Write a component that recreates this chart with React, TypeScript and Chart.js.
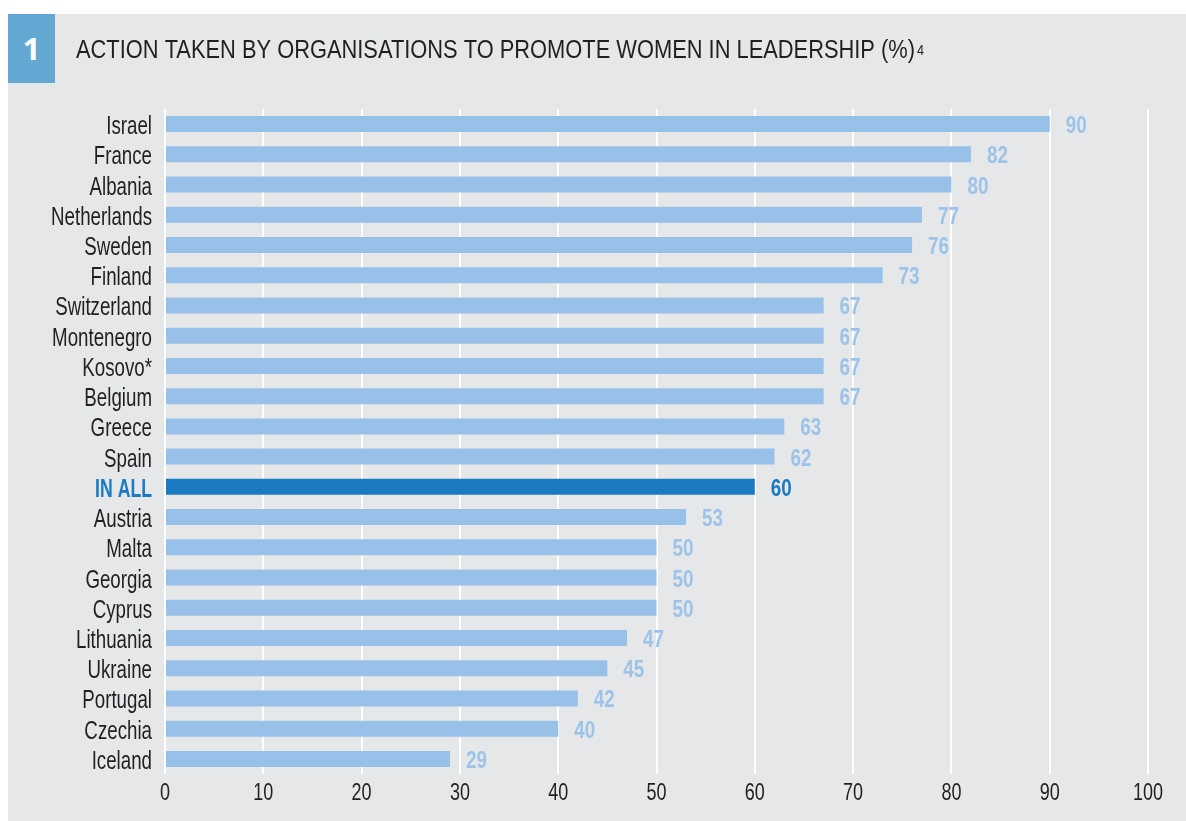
import React, { useEffect, useRef } from "react";
import { Chart, registerables } from "chart.js";

Chart.register(...registerables);

const categories = [
  "Israel", "France", "Albania", "Netherlands", "Sweden", "Finland",
  "Switzerland", "Montenegro", "Kosovo*", "Belgium", "Greece", "Spain",
  "IN ALL", "Austria", "Malta", "Georgia", "Cyprus", "Lithuania",
  "Ukraine", "Portugal", "Czechia", "Iceland",
];
const values = [90, 82, 80, 77, 76, 73, 67, 67, 67, 67, 63, 62, 60, 53, 50, 50, 50, 47, 45, 42, 40, 29];
const xTicks = [0, 10, 20, 30, 40, 50, 60, 70, 80, 90, 100];
const highlight = "IN ALL";
const titleText = "ACTION TAKEN BY ORGANISATIONS TO PROMOTE WOMEN IN LEADERSHIP (%)";
const titleNote = "4";

const LIGHT = "#98c1e9";
const LIGHT_TEXT = "#9cc3ea";
const DARK = "#1a7bc3";
const TEXT = "#231f20";
const BG = "#e6e7e8";
const FONT = "'Liberation Sans', Arial, sans-serif";

function condensedText(ctx: any, text: string, x: number, y: number, sx: number, align: string) {
  ctx.save();
  ctx.translate(x, y);
  ctx.scale(sx, 1);
  ctx.textAlign = align;
  ctx.textBaseline = "alphabetic";
  ctx.fillText(text, 0, 0);
  ctx.restore();
}

const textPlugin = {
  id: "textPlugin",
  afterDraw(chart: any) {
    const ctx = chart.ctx;
    const xs = chart.scales.x;
    const ys = chart.scales.y;
    const area = chart.chartArea;
    ctx.save();

    // category labels
    categories.forEach((c, i) => {
      const y = ys.getPixelForValue(i);
      const hi = c === highlight;
      ctx.font = `${hi ? "bold " : ""}26px ${FONT}`;
      ctx.fillStyle = hi ? DARK : TEXT;
      condensedText(ctx, c, area.left - 13, y + 10, hi ? 0.68 : 0.72, "right");
    });

    // value labels
    const meta = chart.getDatasetMeta(0);
    ctx.font = `bold 23px ${FONT}`;
    meta.data.forEach((bar: any, i: number) => {
      const hi = categories[i] === highlight;
      ctx.fillStyle = hi ? DARK : LIGHT_TEXT;
      condensedText(ctx, String(values[i]), bar.x + 16, bar.y + 9, 0.82, "left");
    });

    // x tick labels
    ctx.font = `24px ${FONT}`;
    ctx.fillStyle = TEXT;
    xs.ticks.forEach((t: any) => {
      condensedText(ctx, String(t.value), xs.getPixelForValue(t.value), area.bottom + 26, 0.75, "center");
    });

    // title
    ctx.font = `26px ${FONT}`;
    ctx.fillStyle = TEXT;
    const w = ctx.measureText(titleText).width;
    const target = 839;
    const sx = target / w;
    condensedText(ctx, titleText, 68, 44, sx, "left");
    ctx.font = `14px ${FONT}`;
    condensedText(ctx, titleNote, 68 + target + 2, 41, 0.9, "left");

    ctx.restore();
  },
};

export default function App() {
  const ref = useRef<HTMLCanvasElement>(null);
  useEffect(() => {
    if (!ref.current) return;
    const chart = new Chart(ref.current, {
      type: "bar",
      data: {
        labels: categories,
        datasets: [
          {
            data: values,
            backgroundColor: categories.map((c) => (c === highlight ? DARK : LIGHT)),
            categoryPercentage: 1,
            barPercentage: 0.53,
          },
        ],
      },
      options: {
        indexAxis: "y",
        animation: false,
        responsive: false,
        maintainAspectRatio: false,
        layout: { padding: { top: 95, right: 38, left: 0, bottom: 0 } },
        plugins: { legend: { display: false }, tooltip: { enabled: false } },
        scales: {
          x: {
            min: 0,
            max: 100,
            afterBuildTicks(scale: any) {
              scale.ticks = xTicks.map((v) => ({ value: v }));
            },
            afterFit(scale: any) {
              scale.height = 47;
            },
            grid: { color: "#ffffff", lineWidth: 2, drawTicks: false },
            border: { display: false },
            ticks: { display: false },
          },
          y: {
            afterFit(scale: any) {
              scale.width = 157;
            },
            grid: { display: false, drawTicks: false },
            border: { display: false },
            ticks: { display: false, autoSkip: false },
          },
        },
      },
      plugins: [textPlugin],
    });
    return () => chart.destroy();
  }, []);

  return (
    <div
      style={{
        position: "absolute",
        left: 8,
        top: 14,
        width: 1178,
        height: 807,
        background: BG,
        overflow: "hidden",
      }}
    >
      <div
        style={{
          position: "absolute",
          left: 0,
          top: 0,
          width: 47,
          height: 69,
          background: "#62a8d2",
          color: "#ffffff",
          fontFamily: "'Open Sans', sans-serif",
          fontWeight: 700,
          fontSize: 31,
          lineHeight: "69px",
          textAlign: "center",
        }}
      >
        1
      </div>
      <canvas
        ref={ref}
        width={1178}
        height={807}
        style={{ position: "absolute", left: 0, top: 0, width: 1178, height: 807 }}
      />
    </div>
  );
}
